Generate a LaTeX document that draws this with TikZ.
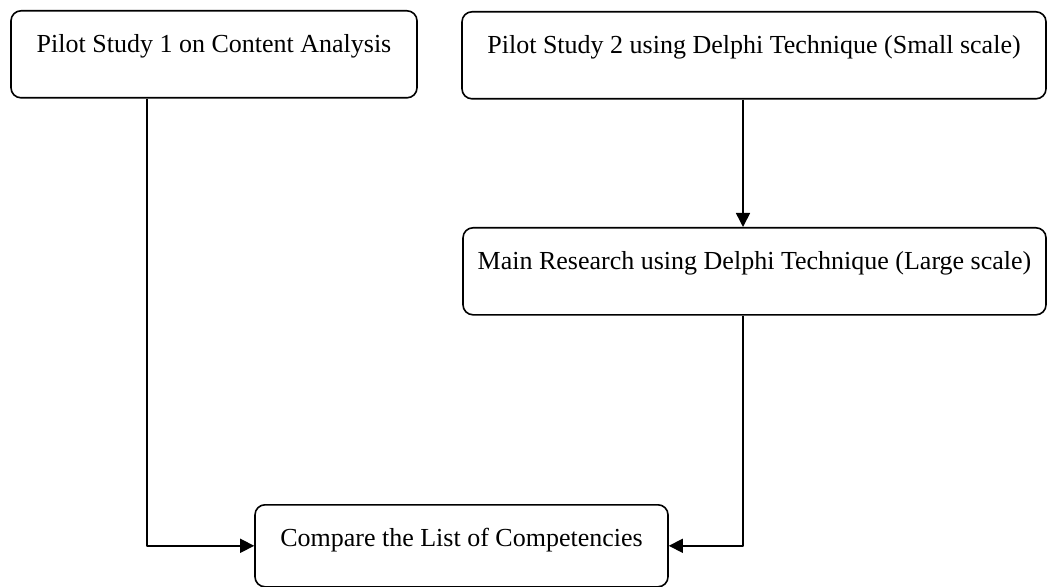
\documentclass[tikz,border=0pt]{standalone}
\usepackage{fontspec}
\setmainfont{Liberation Serif}
\usetikzlibrary{arrows.meta}
\begin{document}
\begin{tikzpicture}[x=0.5pt,y=-0.5pt,>={Triangle[length=7pt,width=7pt]},line join=round,
		stage/.style={draw,rounded corners=5pt,line width=0.8pt,align=center,inner xsep=0pt,inner ysep=3pt,
			text height=18pt,text depth=19.5pt,anchor=north,font=\fontsize{13}{15.6}\selectfont},
		link/.style={->,line width=0.8pt}]
			\useasboundingbox (0,0) rectangle (1047,587);
			\node[stage,minimum width=203pt] (pilot1) at (214,10) {Pilot Study 1 on Content Analysis};
			\node[stage,minimum width=292pt] (pilot2) at (754,11) {Pilot Study 2 using Delphi Technique (Small scale)};
			\node[stage,minimum width=291.5pt] (main) at (754.5,227) {Main Research using Delphi Technique (Large scale)};
			\node[stage,minimum width=206.5pt,text depth=17pt] (compare) at (461.5,504) {Compare the List of Competencies};
			\coordinate (lane1) at (147,0);
			\coordinate (lane2) at (743,0);
			\draw[link] (pilot1.south -| lane1) |- (compare.west);
			\draw[link] (pilot2.south -| lane2) -- (main.north -| lane2);
			\draw[link] (main.south -| lane2) |- (compare.east);
		\end{tikzpicture}
\end{document}
